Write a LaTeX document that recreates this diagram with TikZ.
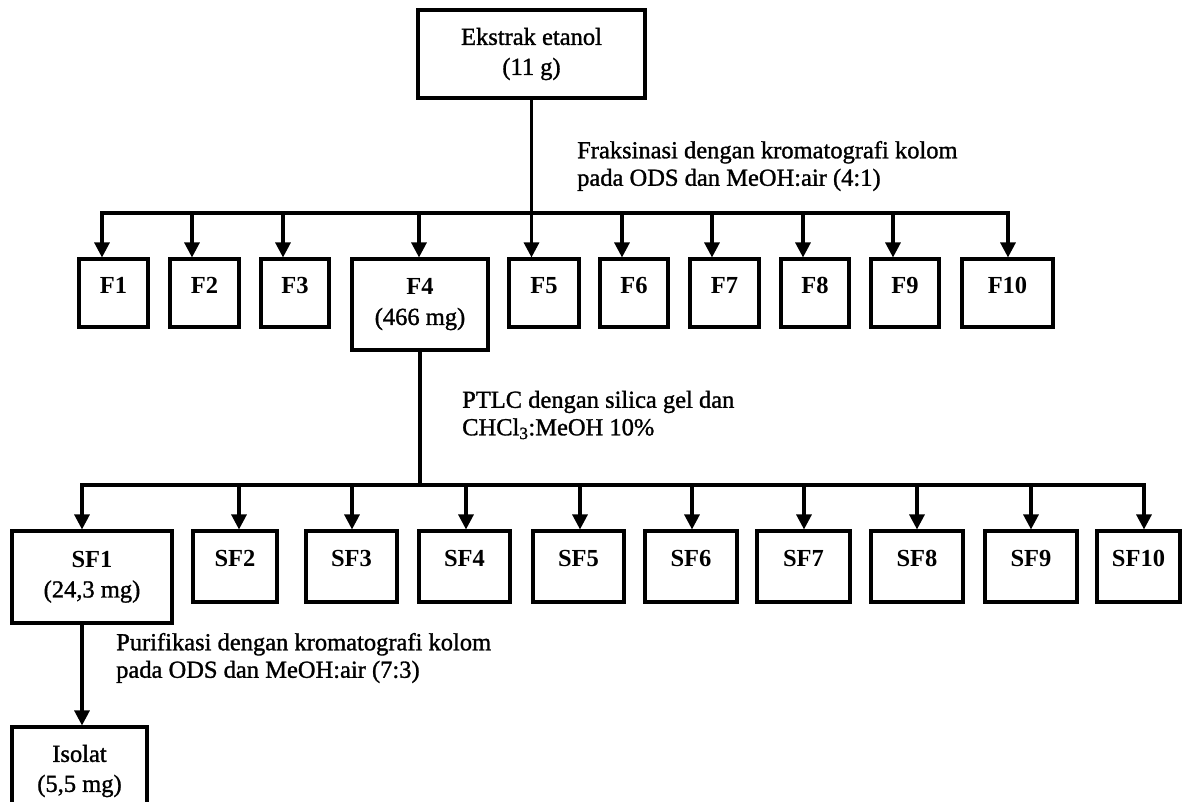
\documentclass[tikz,border=0pt]{standalone}
\usepackage{fontspec}
\setmainfont{Liberation Serif}[UprightFeatures={FakeBold=1.2}]
\usetikzlibrary{arrows.meta,calc}
\begin{document}
\begin{tikzpicture}[x=1pt,y=-1pt,
  box/.style={draw,line width=3.1pt,inner sep=0pt,align=center,font=\fontsize{24.5}{30}\selectfont},
  bbox/.style={box,font=\fontsize{24.5}{30}\selectfont\bfseries,text height=17pt,text depth=17pt},
  lbl/.style={font=\fontsize{24.5}{27.5}\selectfont,align=left,anchor=west,inner sep=0pt},
  conn/.style={line width=3.1pt},
  arr/.style={line width=3.1pt,-{Triangle[length=15pt,width=15pt]}},
  arrb/.style={line width=3.1pt,{Triangle[length=15pt,width=15pt]}-{Triangle[length=15pt,width=15pt]}}]
\path[use as bounding box] (0,0) rectangle (1184,801);
\clip (0,0) rectangle (1184,801);
\fill[white] (0,0) rectangle (1184,801);

% top
\node[box,minimum width=227pt,minimum height=88pt] (E) at (531.5,54) {Ekstrak etanol\\(11 g)};

% F row
\node[bbox,minimum width=69pt,minimum height=68pt] (F1) at (113.5,293) {F1};
\node[bbox,minimum width=69pt,minimum height=68pt] (F2) at (204.5,293) {F2};
\node[bbox,minimum width=68pt,minimum height=68pt] (F3) at (295,293) {F3};
\node[box,minimum width=136pt,minimum height=91pt] (F4) at (420,304.5) {\textbf{F4}\\(466 mg)};
\node[bbox,minimum width=70pt,minimum height=68pt] (F5) at (544,293) {F5};
\node[bbox,minimum width=68pt,minimum height=68pt] (F6) at (634,293) {F6};
\node[bbox,minimum width=69pt,minimum height=68pt] (F7) at (724.5,293) {F7};
\node[bbox,minimum width=68pt,minimum height=68pt] (F8) at (815,293) {F8};
\node[bbox,minimum width=68pt,minimum height=68pt] (F9) at (905,293) {F9};
\node[bbox,minimum width=91pt,minimum height=68pt] (F10) at (1007.5,293) {F10};

% SF row
\node[box,minimum width=160pt,minimum height=92pt] (SF1) at (92,577) {\textbf{SF1}\\(24,3 mg)};
\node[bbox,minimum width=84pt,minimum height=71pt] (SF2) at (235,566.5) {SF2};
\node[bbox,minimum width=91pt,minimum height=71pt] (SF3) at (351.5,566.5) {SF3};
\node[bbox,minimum width=91pt,minimum height=71pt] (SF4) at (464.5,566.5) {SF4};
\node[bbox,minimum width=91pt,minimum height=71pt] (SF5) at (578.5,566.5) {SF5};
\node[bbox,minimum width=92pt,minimum height=71pt] (SF6) at (691,566.5) {SF6};
\node[bbox,minimum width=93pt,minimum height=71pt] (SF7) at (803.5,566.5) {SF7};
\node[bbox,minimum width=92pt,minimum height=71pt] (SF8) at (917,566.5) {SF8};
\node[bbox,minimum width=92pt,minimum height=71pt] (SF9) at (1031,566.5) {SF9};
\node[bbox,minimum width=83pt,minimum height=71pt] (SF10) at (1138.5,566.5) {SF10};

% isolat (runs off the bottom edge)
\node[box,minimum width=135pt,minimum height=88pt] (Iso) at (79.5,771) {Isolat\\(5,5 mg)};

% labels
\node[lbl] (t1) at (577,166) {Fraksinasi dengan kromatografi kolom\\pada ODS dan MeOH:air (4:1)};
\node[lbl] (t2) at (462,415) {PTLC dengan silica gel dan\\CHCl\textsubscript{3}:MeOH 10\%};
\node[lbl] (t3) at (116,658) {Purifikasi dengan kromatografi kolom\\pada ODS dan MeOH:air (7:3)};

% first split
\coordinate (a1) at (102,213);
\coordinate (a2) at (192,213);
\coordinate (a3) at (283,213);
\coordinate (a4) at (419,213);
\coordinate (a6) at (622,213);
\coordinate (a7) at (712,213);
\coordinate (a8) at (803,213);
\coordinate (a9) at (893,213);
\coordinate (a10) at (1008,213);
\draw[arrb] (a1 |- F1.north) -- (a1) -- (a10) -- (a10 |- F10.north);
\draw[arr] (E.south) -- (E.south |- F5.north);
\draw[arr] (a2) -- (a2 |- F2.north);
\draw[arr] (a3) -- (a3 |- F3.north);
\draw[arr] (a4) -- (a4 |- F4.north);
\draw[arr] (a6) -- (a6 |- F6.north);
\draw[arr] (a7) -- (a7 |- F7.north);
\draw[arr] (a8) -- (a8 |- F8.north);
\draw[arr] (a9) -- (a9 |- F9.north);

% second split
\coordinate (s1) at (82,485);
\coordinate (s2) at (239,485);
\coordinate (s3) at (352,485);
\coordinate (s4) at (466,485);
\coordinate (s5) at (580,485);
\coordinate (s6) at (692,485);
\coordinate (s7) at (804,485);
\coordinate (s8) at (917,485);
\coordinate (s9) at (1031,485);
\coordinate (s10) at (1144,485);
\draw[conn] (F4.south) -- (F4.south |- s1);
\draw[arrb] (s1 |- SF1.north) -- (s1) -- (s10) -- (s10 |- SF10.north);
\draw[arr] (s2) -- (s2 |- SF2.north);
\draw[arr] (s3) -- (s3 |- SF3.north);
\draw[arr] (s4) -- (s4 |- SF4.north);
\draw[arr] (s5) -- (s5 |- SF5.north);
\draw[arr] (s6) -- (s6 |- SF6.north);
\draw[arr] (s7) -- (s7 |- SF7.north);
\draw[arr] (s8) -- (s8 |- SF8.north);
\draw[arr] (s9) -- (s9 |- SF9.north);

% purification
\draw[arr] (SF1.south -| s1) -- (Iso.north -| s1);
\end{tikzpicture}
\end{document}
